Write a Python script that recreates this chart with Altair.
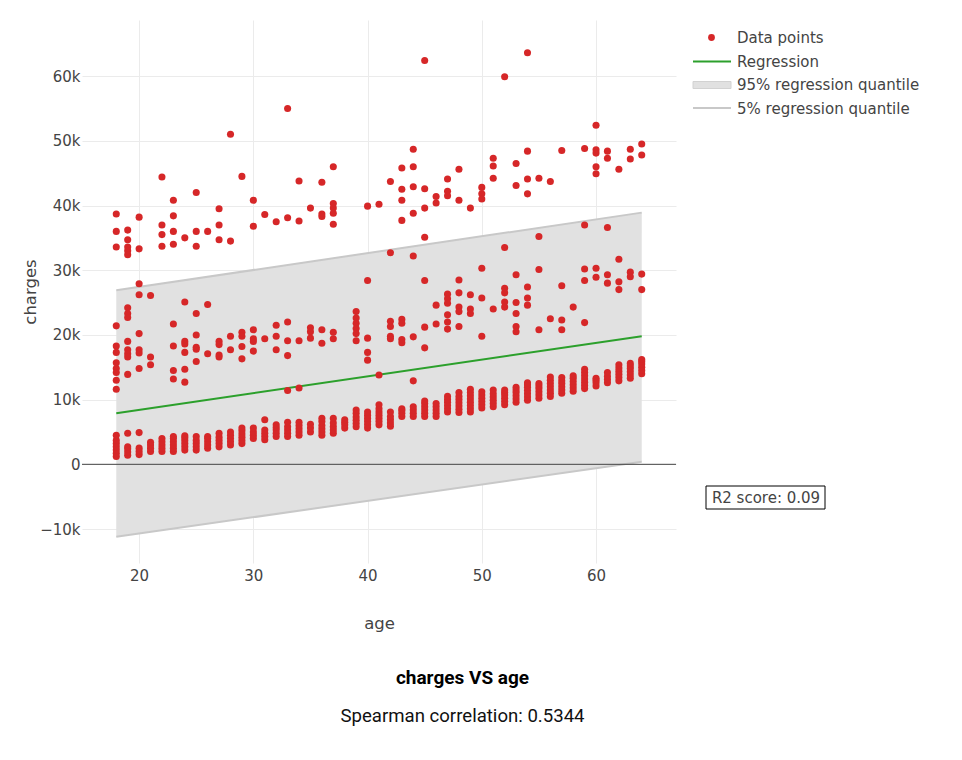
import altair as alt
import pandas as pd

# ---------------- data ----------------
ages = list(range(18, 65))

# dense lower band (non-smokers), one list per age
low_band = [
    [1200, 1700, 2200, 2700, 3200, 3700, 4500],          # 18
    [1400, 1900, 2400, 2700, 4800],                      # 19
    [1500, 2000, 2500, 4900],                            # 20
    [2000, 2500, 3000, 3400],                            # 21
    [2000, 2500, 3000, 3500, 4000],                      # 22
    [2000, 2500, 3000, 3500, 4000, 4300],                # 23
    [2200, 2700, 3200, 3700, 4100, 4400],                # 24
    [2200, 2700, 3200, 3700, 4300],                      # 25
    [2500, 3000, 3500, 4000, 4300],                      # 26
    [2700, 3200, 3700, 4200, 4800],                      # 27
    [3000, 3500, 4000, 4500, 5000],                      # 28
    [3200, 3700, 4200, 4700, 5200, 5600],                # 29
    [4000, 4500, 5000, 5600],                            # 30
    [3800, 4300, 4800, 5300, 6900],                      # 31
    [4300, 4800, 5300, 5700, 6100],                      # 32
    [4300, 4800, 5300, 5800, 6500],                      # 33
    [4500, 5000, 5500, 6000, 6500],                      # 34
    [5000, 5600, 6200],                                  # 35
    [4500, 5000, 5500, 6000, 6600, 7100],                # 36
    [4800, 5300, 5800, 6400, 7100],                      # 37
    [5600, 6100, 6500, 6900],                            # 38
    [5800, 6300, 6800, 7300, 7900, 8400],                # 39
    [5600, 6100, 6600, 7100, 7600, 8100],                # 40
    [6100, 6600, 7100, 7600, 8100, 8600, 9200],          # 41
    [5900, 6400, 6900, 7400, 8100],                      # 42
    [7400, 7900, 8300, 8600],                            # 43
    [7400, 7900, 8400, 8900],                            # 44
    [7400, 7900, 8400, 8900, 9400, 9800],                # 45
    [7400, 7900, 8400, 8900, 9400],                      # 46
    [8100, 8600, 9100, 9600, 10000, 10500],              # 47
    [8000, 8500, 9000, 9500, 10000, 10500, 11100],       # 48
    [8100, 8600, 9100, 9600, 10100, 10600, 11100, 11600],# 49
    [8700, 9200, 9700, 10200, 10700, 11200],             # 50
    [8900, 9400, 9900, 10400, 10900, 11500],             # 51
    [9200, 9700, 10200, 10700, 11100, 11500],            # 52
    [9600, 10100, 10600, 11100, 11500, 11900],           # 53
    [9900, 10400, 10900, 11400, 11900, 12300, 12600],    # 54
    [10200, 10700, 11200, 11700, 12100, 12500],          # 55
    [10500, 11000, 11500, 12000, 12500, 13000, 13500],   # 56
    [11000, 11500, 12000, 12500, 12900, 13400],          # 57
    [11300, 11800, 12300, 12800, 13300, 13700],          # 58
    [11700, 12200, 12700, 13200, 13700, 14200, 14700],   # 59
    [12100, 12600, 13000, 13300],                        # 60
    [12600, 13100, 13600, 14200],                        # 61
    [12900, 13400, 13900, 14400, 14900, 15400],          # 62
    [13300, 13800, 14300, 14800, 15200, 15600],          # 63
    [14000, 14500, 15000, 15500, 15900, 16200],          # 64
]

# middle band (roughly 11k - 37k), one list per age
mid_band = [
    [21400, 18300, 17300, 15700, 14800, 14200, 13000, 11600],  # 18
    [24200, 23300, 22700, 19000, 17700, 17100, 16600, 13900],  # 19
    [27900, 26200, 20200, 17700, 17200, 14800],                # 20
    [26100, 16600, 15400],                                     # 21
    [],                                                        # 22
    [21700, 18300, 14500, 13200],                              # 23
    [25100, 19000, 18600, 17300, 14700, 12700],                # 24
    [23300, 20000, 18100, 17800, 15900],                       # 25
    [24700, 17100],                                            # 26
    [19000, 18500, 16900, 16600],                              # 27
    [19800, 17700],                                            # 28
    [20400, 19800, 18200, 16300],                              # 29
    [20800, 19400, 19000, 17500],                              # 30
    [19400],                                                   # 31
    [21500, 19800, 17700],                                     # 32
    [22000, 19100, 16800, 11400],                              # 33
    [19100, 11800],                                            # 34
    [21100, 20500, 19500],                                     # 35
    [20800, 18700],                                            # 36
    [20400, 19400],                                            # 37
    [],                                                        # 38
    [23600, 22600, 21800, 21000, 20200, 19100],                # 39
    [28400, 19500, 17300, 16100],                              # 40
    [13800],                                                   # 41
    [32700, 22100, 21300, 19800, 19400],                       # 42
    [22400, 21800, 19300, 18800],                              # 43
    [32200, 19700, 12900],                                     # 44
    [35100, 28400, 21200, 18000],                              # 45
    [24600, 21700],                                            # 46
    [26300, 25600, 24900, 23100, 22000, 20900],                # 47
    [28500, 26500, 24300, 23600, 21300],                       # 48
    [26200, 24000, 23300],                                     # 49
    [30300, 25700, 19800],                                     # 50
    [24000],                                                   # 51
    [33500, 27200, 26500, 25100, 24300],                       # 52
    [29300, 25000, 23300, 21300, 20500],                       # 53
    [27400, 25700, 24600],                                     # 54
    [35200, 30100, 20800],                                     # 55
    [22500],                                                   # 56
    [27600, 22300, 20800],                                     # 57
    [24300],                                                   # 58
    [37000, 30200, 28400, 21900],                              # 59
    [30300, 28900],                                            # 60
    [36600, 29300, 28000],                                     # 61
    [31700, 28200, 27000],                                     # 62
    [29700, 29000],                                            # 63
    [29400, 27000],                                            # 64
]

# upper band (roughly 32k - 64k), one list per age
high_band = [
    [38700, 36000, 33600],                 # 18
    [36200, 34700, 33600, 33000, 32400],   # 19
    [38200, 33300],                        # 20
    [],                                    # 21
    [44400, 37000, 35500, 33700],          # 22
    [40800, 38400, 36000, 34000],          # 23
    [35000],                               # 24
    [42000, 36000, 33700],                 # 25
    [36000],                               # 26
    [39500, 37000, 34700],                 # 27
    [51000, 34500],                        # 28
    [44500],                               # 29
    [40800, 36800],                        # 30
    [38600],                               # 31
    [37500],                               # 32
    [55000, 38100],                        # 33
    [43800, 37600],                        # 34
    [39600],                               # 35
    [43600, 38700, 38300],                 # 36
    [46000, 40300, 39600, 38800, 37100],   # 37
    [],                                    # 38
    [],                                    # 39
    [39900],                               # 40
    [40200],                               # 41
    [43700],                               # 42
    [45800, 42500, 40800, 37700],          # 43
    [48700, 46000, 42900, 38800],          # 44
    [62400, 42600, 39600],                 # 45
    [41400, 40400],                        # 46
    [44100, 42200, 41500],                 # 47
    [45600, 40800],                        # 48
    [39600],                               # 49
    [42800, 41800, 41000],                 # 50
    [47300, 46100, 44200],                 # 51
    [59900],                               # 52
    [46500, 43100],                        # 53
    [63600, 48400, 44100, 41800],          # 54
    [44200],                               # 55
    [43700],                               # 56
    [48500],                               # 57
    [],                                    # 58
    [48800],                               # 59
    [52400, 48600, 48100, 46000, 44900],   # 60
    [48400, 47300],                        # 61
    [45600],                               # 62
    [48700, 47200],                        # 63
    [49500, 47800],                        # 64
]

reg_age = [18, 64]
reg_fit = [7900, 19800]
reg_q95 = [26900, 38900]
reg_q5 = [-11200, 400]

legend_labels = ["Data points", "Regression", "95% regression quantile", "5% regression quantile"]
title_text = "charges VS age"
subtitle_text = "Spearman correlation: 0.5344"
r2_text = "R2 score: 0.09"

# ---------------- tables ----------------
rows = []
for a, l1, l2, l3 in zip(ages, low_band, mid_band, high_band):
    for v in l1 + l2 + l3:
        rows.append({"age": a, "charges": v})
pts = pd.DataFrame(rows)
reg = pd.DataFrame({"age": reg_age, "fit": reg_fit, "hi": reg_q95, "lo": reg_q5})
one = pd.DataFrame({"k": [0]})

# ---------------- styling ----------------
RED = "#d62728"
GREEN = "#2ca02c"
BAND = "#e1e1e1"
EDGE = "#c8c8c8"
TXT = "#444444"
FONT = "DejaVu Sans"

xs = alt.Scale(domain=[15, 67], nice=False, zero=False)
ys = alt.Scale(domain=[-15250, 68670], nice=False, zero=False)
xaxis = alt.Axis(values=[20, 30, 40, 50, 60], grid=True, gridColor="#ebebeb", domain=False,
                 ticks=False, tickSize=0, labelPadding=5, labelFont=FONT, labelFontSize=15,
                 labelColor=TXT, titleFont=FONT, titleFontSize=16.5, titleColor=TXT,
                 titleFontWeight="normal", titleX=297, titleY=60, titleBaseline="middle")
yaxis = alt.Axis(values=[-10000, 0, 10000, 20000, 30000, 40000, 50000, 60000],
                 labelExpr="datum.value == 0 ? '0' : format(datum.value, '~s')",
                 grid=True, gridColor="#ebebeb", domain=False, ticks=False, tickSize=0,
                 labelPadding=2, labelFont=FONT, labelFontSize=15, labelColor=TXT,
                 titleFont=FONT, titleFontSize=16.5, titleColor=TXT, titleFontWeight="normal",
                 titleX=-52, titleY=271.5, titleAngle=270, titleBaseline="middle", titleAlign="center")

X = alt.X("age:Q", scale=xs, axis=xaxis, title="age")

band = alt.Chart(reg).mark_area(color=BAND, opacity=1).encode(
    x=X, y=alt.Y("lo:Q", scale=ys, axis=yaxis, title="charges"), y2="hi:Q")
hi_line = alt.Chart(reg).mark_line(color=EDGE, strokeWidth=2).encode(
    x=X, y=alt.Y("hi:Q", scale=ys, axis=yaxis, title="charges"))
lo_line = alt.Chart(reg).mark_line(color=EDGE, strokeWidth=2).encode(
    x=X, y=alt.Y("lo:Q", scale=ys, axis=yaxis, title="charges"))
zero = alt.Chart(one).mark_rule(color=TXT, strokeWidth=1).encode(
    y=alt.Y("zero:Q", scale=ys, axis=yaxis, title="charges")).transform_calculate(zero="0")
fit_line = alt.Chart(reg).mark_line(color=GREEN, strokeWidth=2).encode(
    x=X, y=alt.Y("fit:Q", scale=ys, axis=yaxis, title="charges"))
points = alt.Chart(pts).mark_circle(color=RED, size=50, opacity=1).encode(
    x=X, y=alt.Y("charges:Q", scale=ys, axis=yaxis, title="charges"))

# legend (drawn manually, Plotly style)
base1 = alt.Chart(one)
lg_dot = base1.mark_circle(color=RED, size=46, opacity=1).encode(x=alt.value(629.5), y=alt.value(17.5))
lg_fit = base1.mark_rule(color=GREEN, strokeWidth=2).encode(x=alt.value(611), x2=alt.value(649), y=alt.value(41.5))
lg_band = base1.mark_rect(fill=BAND, stroke="#d2d2d2", strokeWidth=1).encode(
    x=alt.value(611), x2=alt.value(649), y=alt.value(61.5), y2=alt.value(68.5))
lg_q5 = base1.mark_rule(color=EDGE, strokeWidth=2).encode(x=alt.value(611), x2=alt.value(649), y=alt.value(88))
lg_texts = [
    base1.mark_text(text=lab, align="left", baseline="middle", font=FONT, fontSize=15, color=TXT).encode(
        x=alt.value(655), y=alt.value(yy))
    for lab, yy in zip(legend_labels, [17.5, 42, 65, 88.5])
]

# R2 annotation
r2_box = base1.mark_rect(fill="white", stroke="black", strokeWidth=1).encode(
    x=alt.value(624), x2=alt.value(743), y=alt.value(466), y2=alt.value(489))
r2_lab = base1.mark_text(text=r2_text, align="center", baseline="middle", font=FONT, fontSize=15,
                         color=TXT).encode(x=alt.value(684), y=alt.value(478))

# titles below the chart
t1 = base1.mark_text(text=title_text, align="center", baseline="alphabetic", font="Roboto",
                     fontSize=19, fontWeight="bold", color="black").encode(x=alt.value(380.5), y=alt.value(664))
t2 = base1.mark_text(text=subtitle_text, align="center", baseline="alphabetic", font="Roboto",
                     fontSize=18.6, color="#111111").encode(x=alt.value(380.5), y=alt.value(702))

chart = alt.layer(
    band, hi_line, lo_line, zero, fit_line, points,
    lg_dot, lg_fit, lg_band, lg_q5, *lg_texts, r2_box, r2_lab, t1, t2
).properties(
    width=594, height=543,
    autosize=alt.AutoSizeParams(type="none"),
    padding={"left": 74, "top": 12, "right": 278, "bottom": 177},
    background="white",
).configure_view(stroke=None)

chart.save("out.html", embed_options={"renderer": "svg", "actions": False})
